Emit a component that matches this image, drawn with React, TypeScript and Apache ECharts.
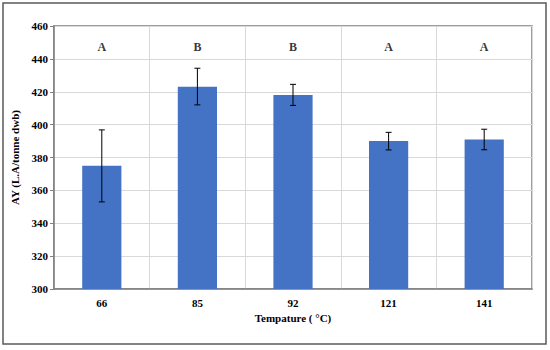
import React, { useEffect, useRef } from "react";
import * as echarts from "echarts";

const categories = ["66", "85", "92", "121", "141"];
const means = [375, 423, 418, 390, 391];
const errLow = [353, 412, 411.7, 384.6, 384.7];
const errHigh = [396.8, 434.3, 424.5, 395.3, 397.2];
const letters = ["A", "B", "B", "A", "A"];
const letterLevel = 447.5;

const serif = "Liberation Serif";

export default function App() {
  const ref = useRef<HTMLDivElement>(null);
  useEffect(() => {
    if (!ref.current) return;
    const chart = echarts.init(ref.current, null, { renderer: "svg" });
    chart.setOption({
      animation: false,
      backgroundColor: "#ffffff",
      textStyle: { fontFamily: serif },
      graphic: [
        {
          type: "rect",
          shape: { x: 3, y: 3, width: 543, height: 341 },
          style: { fill: "none", stroke: "#595959", lineWidth: 1.5 },
          silent: true,
        },
      ],
      grid: {
        left: 54,
        right: 18,
        top: 26,
        bottom: 61,
        show: true,
        borderColor: "#7f7f7f",
        borderWidth: 1.5,
      },
      xAxis: {
        type: "category",
        data: categories,
        name: "Tempature ( °C)",
        nameLocation: "middle",
        nameGap: 23,
        nameTextStyle: { fontFamily: serif, fontWeight: "bold", fontSize: 11, color: "#000" },
        axisLine: { show: true, lineStyle: { color: "#7f7f7f", width: 1.5 } },
        axisTick: { show: false },
        axisLabel: { fontFamily: serif, fontWeight: "bold", fontSize: 11, color: "#000", margin: 8 },
        splitLine: { show: true, interval: 0, lineStyle: { color: "#d9d9d9", width: 1 } },
      },
      yAxis: {
        type: "value",
        min: 300,
        max: 460,
        interval: 20,
        name: "AY (L.A/tonne dwb)",
        nameLocation: "middle",
        nameGap: 30,
        nameRotate: 90,
        nameTextStyle: { fontFamily: serif, fontWeight: "bold", fontSize: 11, color: "#000" },
        axisLine: { show: true, lineStyle: { color: "#7f7f7f", width: 1.5 } },
        axisTick: { show: true, length: 4, lineStyle: { color: "#7f7f7f" } },
        axisLabel: { fontFamily: serif, fontWeight: "bold", fontSize: 11, color: "#000", margin: 6 },
        splitLine: { show: true, lineStyle: { color: "#d9d9d9", width: 1 } },
      },
      series: [
        {
          type: "bar",
          data: means,
          barWidth: "41%",
          itemStyle: { color: "#4472C4" },
          z: 2,
        },
        {
          type: "custom",
          data: categories.map((_, i) => [i, errLow[i], errHigh[i]]),
          z: 5,
          renderItem: (params: any, api: any) => {
            const i = api.value(0);
            const lo = api.coord([i, api.value(1)]);
            const hi = api.coord([i, api.value(2)]);
            const cap = 3;
            const style = { stroke: "#000", lineWidth: 1 };
            return {
              type: "group",
              children: [
                { type: "line", shape: { x1: lo[0], y1: lo[1], x2: hi[0], y2: hi[1] }, style },
                { type: "line", shape: { x1: hi[0] - cap, y1: hi[1], x2: hi[0] + cap, y2: hi[1] }, style },
                { type: "line", shape: { x1: lo[0] - cap, y1: lo[1], x2: lo[0] + cap, y2: lo[1] }, style },
              ],
            };
          },
        },
        {
          type: "scatter",
          data: categories.map((_, i) => [i, letterLevel]),
          symbolSize: 0,
          z: 6,
          label: {
            show: true,
            position: "inside",
            formatter: (p: any) => letters[p.dataIndex],
            fontFamily: serif,
            fontWeight: "bold",
            fontSize: 12,
            color: "#000",
          },
        },
      ],
    });
    return () => chart.dispose();
  }, []);
  return (
    <div
      ref={ref}
      style={{ position: "fixed", left: 0, top: 0, width: 550, height: 350 }}
    />
  );
}
